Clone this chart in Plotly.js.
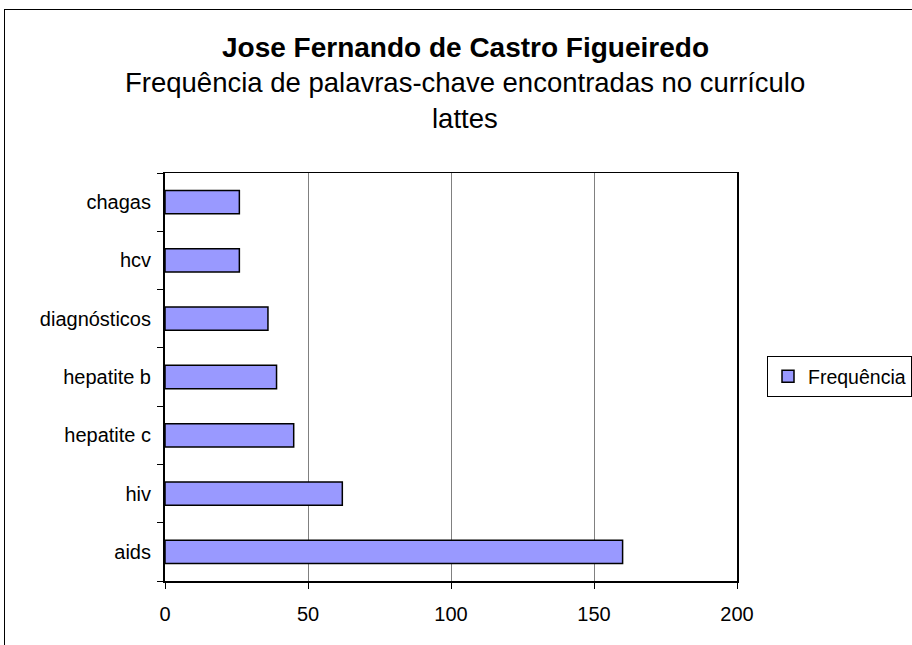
<!DOCTYPE html>
<html>
<head>
<meta charset="utf-8">
<script src="https://cdn.plot.ly/plotly-3.0.1.min.js"></script>
<style>
html,body{margin:0;padding:0;background:#fff;overflow:hidden;width:912px;height:645px;}
#frame{position:absolute;left:4px;top:9px;width:2000px;height:2000px;border:1.5px solid #000;}
#chart{position:absolute;left:0;top:0;width:1000px;height:645px;}
</style>
</head>
<body>
<div id="frame"></div>
<div id="chart"></div>
<script>
const categories = ["aids", "hiv", "hepatite c", "hepatite b", "diagnósticos", "hcv", "chagas"];
const frequencia = [160, 62, 45, 39, 36, 26, 26];
const xTicks = [0, 50, 100, 150, 200];
const seriesName = "Frequência";
const titleMain = "Jose Fernando de Castro Figueiredo";
const titleSub1 = "Frequência de palavras-chave encontradas no currículo";
const titleSub2 = "lattes";

const font = "Liberation Sans, Arial, sans-serif";

const trace = {
  type: "bar",
  orientation: "h",
  y: categories,
  x: frequencia,
  name: seriesName,
  marker: {color: "#9999ff", line: {color: "#000000", width: 1.5}},
  showlegend: true,
  hoverinfo: "x+y"
};

const titleX = (465 - 165) / 572;

const layout = {
  width: 1000, height: 645,
  margin: {l: 165, r: 263, t: 173, b: 64, pad: 0},
  paper_bgcolor: "rgba(0,0,0,0)",
  plot_bgcolor: "#ffffff",
  font: {family: font, size: 20, color: "#000"},
  bargap: 0.6,
  showlegend: true,
  xaxis: {
    range: [0, 200], tickvals: xTicks, ticktext: xTicks.map(String),
    showgrid: true, gridcolor: "#808080", gridwidth: 1,
    showline: true, linecolor: "#000", linewidth: 1.5, mirror: true,
    ticks: "outside", ticklen: 6, tickcolor: "#000", tickwidth: 1,
    zeroline: false, fixedrange: true,
    ticklabelstandoff: 8,
    tickfont: {family: font, size: 20, color: "#000"}
  },
  yaxis: {
    type: "category", categoryorder: "array", categoryarray: categories,
    showline: true, linecolor: "#000", linewidth: 2, mirror: true,
    ticks: "outside", tickson: "boundaries", ticklen: 6, tickcolor: "#000", tickwidth: 1,
    showgrid: false, zeroline: false, fixedrange: true,
    ticklabelstandoff: 8,
    tickfont: {family: font, size: 20, color: "#000"}
  },
  legend: {
    x: (767 - 165) / 572, xanchor: "left", y: (581 - 356) / 408, yanchor: "top",
    bordercolor: "#000", borderwidth: 1, bgcolor: "#fff",
    font: {family: font, size: 19.5, color: "#000"},
    itemwidth: 30
  },
  annotations: [
    {text: "<b>" + titleMain + "</b>", xref: "paper", yref: "paper", x: titleX, y: 1 + (173 - 47) / 408,
     xanchor: "center", yanchor: "middle", showarrow: false, font: {family: font, size: 28, color: "#000"}},
    {text: titleSub1, xref: "paper", yref: "paper", x: titleX, y: 1 + (173 - 83) / 408,
     xanchor: "center", yanchor: "middle", showarrow: false, font: {family: font, size: 27.5, color: "#000"}},
    {text: titleSub2, xref: "paper", yref: "paper", x: titleX, y: 1 + (173 - 118) / 408,
     xanchor: "center", yanchor: "middle", showarrow: false, font: {family: font, size: 27.5, color: "#000"}}
  ]
};

Plotly.newPlot("chart", [trace], layout, {displayModeBar: false, staticPlot: true});
</script>
</body>
</html>
